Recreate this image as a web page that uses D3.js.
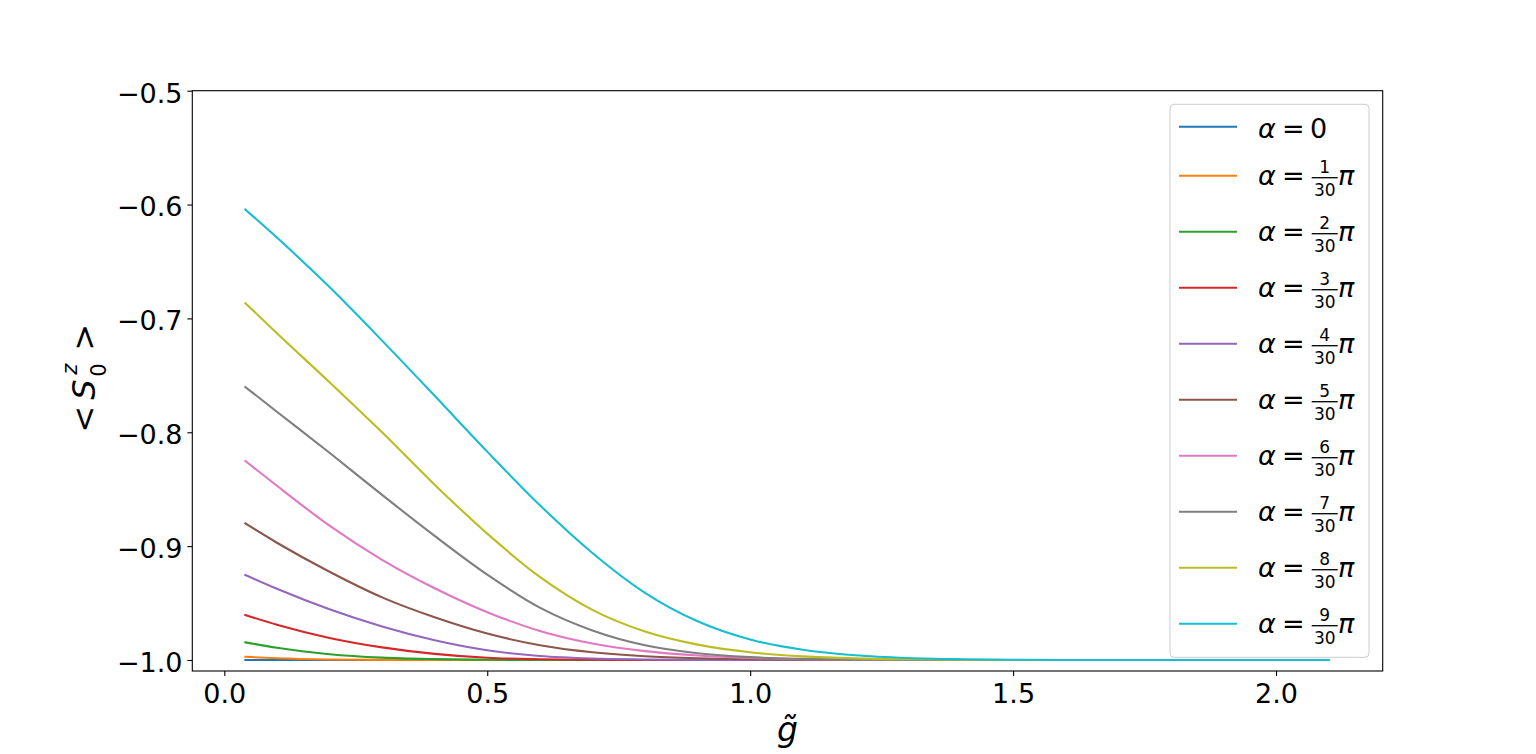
<!DOCTYPE html>
<html>
<head>
<meta charset="utf-8">
<script src="https://cdn.jsdelivr.net/npm/d3@7"></script>
<style>
  html, body { margin: 0; padding: 0; background: #ffffff; }
  svg { display: block; font-family: "DejaVu Sans", sans-serif; }
</style>
</head>
<body>
<svg id="chart" width="1536" height="754"></svg>
<script>
// ---------------- data ----------------
const gValues = [0.04, 0.1, 0.2, 0.3, 0.4, 0.5, 0.6, 0.7, 0.8, 0.9, 1.0,
                 1.1, 1.2, 1.3, 1.4, 1.5, 1.6, 1.7, 1.8, 1.9, 2.0, 2.1];

const alpha0 = [-1, -1, -1, -1, -1, -1, -1, -1, -1, -1, -1, -1, -1, -1, -1, -1, -1, -1, -1, -1, -1, -1];
const alpha1 = [-0.9972, -0.9984, -0.9995, -0.9999, -1, -1, -1, -1, -1, -1, -1, -1, -1, -1, -1, -1, -1, -1, -1, -1, -1, -1];
const alpha2 = [-0.9845, -0.9893, -0.9949, -0.9979, -0.9992, -0.9998, -1, -1, -1, -1, -1, -1, -1, -1, -1, -1, -1, -1, -1, -1, -1, -1];
const alpha3 = [-0.9605, -0.9690, -0.9806, -0.9889, -0.9946, -0.9980, -0.9993, -0.9998, -1, -1, -1, -1, -1, -1, -1, -1, -1, -1, -1, -1, -1, -1];
const alpha4 = [-0.9254, -0.9375, -0.9555, -0.9706, -0.9827, -0.9915, -0.9965, -0.9987, -0.9995, -0.9999, -1, -1, -1, -1, -1, -1, -1, -1, -1, -1, -1, -1];
const alpha5 = [-0.8801, -0.8970, -0.9225, -0.9450, -0.9625, -0.9768, -0.9870, -0.9932, -0.9967, -0.9985, -0.9994, -0.9998, -0.9999, -1, -1, -1, -1, -1, -1, -1, -1, -1];
const alpha6 = [-0.8252, -0.8470, -0.8820, -0.9120, -0.9370, -0.9580, -0.9745, -0.9855, -0.9922, -0.9960, -0.9982, -0.9993, -0.9998, -1, -1, -1, -1, -1, -1, -1, -1, -1];
const alpha7 = [-0.7602, -0.7820, -0.8180, -0.8550, -0.8910, -0.9250, -0.9540, -0.9740, -0.9870, -0.9940, -0.9975, -0.9990, -0.9997, -1, -1, -1, -1, -1, -1, -1, -1, -1];
const alpha8 = [-0.6866, -0.7130, -0.7560, -0.8000, -0.8460, -0.8890, -0.9270, -0.9560, -0.9750, -0.9865, -0.9932, -0.9968, -0.9986, -0.9994, -0.9998, -1, -1, -1, -1, -1, -1, -1];
const alpha9 = [-0.6044, -0.6290, -0.6725, -0.7195, -0.7680, -0.8170, -0.8640, -0.9060, -0.9410, -0.9660, -0.9820, -0.9910, -0.9958, -0.9982, -0.9993, -0.9998, -1, -1, -1, -1, -1, -1];

const seriesList = [alpha0, alpha1, alpha2, alpha3, alpha4, alpha5, alpha6, alpha7, alpha8, alpha9];
const numerators = ["0", "1", "2", "3", "4", "5", "6", "7", "8", "9"];
const denominator = "30";

const xTicks = [0, 0.5, 1.0, 1.5, 2.0];
const yTicks = [-1.0, -0.9, -0.8, -0.7, -0.6, -0.5];
const xDomain = [-0.0609, 2.2029];
const yDomain = [-1.00966, -0.5];

const colors = ["#1f77b4", "#ff7f0e", "#2ca02c", "#d62728", "#9467bd",
                "#8c564b", "#e377c2", "#7f7f7f", "#bcbd22", "#17becf"];

// ---------------- layout ----------------
const M = { left: 192.3, right: 1382.7, top: 90.7, bottom: 671 };
const TICK_FONT = 27;
const svg = d3.select("#chart");

const x = d3.scaleLinear().domain(xDomain).range([M.left, M.right]);
const y = d3.scaleLinear().domain(yDomain).range([M.bottom, M.top]);

svg.append("defs").append("clipPath").attr("id", "clip")
  .append("rect").attr("x", M.left).attr("y", M.top)
  .attr("width", M.right - M.left).attr("height", M.bottom - M.top);

// lines
const line = d3.line()
  .x((d, i) => x(gValues[i]))
  .y(d => y(d))
  .curve(d3.curveMonotoneX);

const linesG = svg.append("g").attr("clip-path", "url(#clip)");
seriesList.forEach((s, i) => {
  linesG.append("path")
    .datum(s)
    .attr("d", line)
    .attr("fill", "none")
    .attr("stroke", colors[i])
    .attr("stroke-width", 2.1)
    .attr("stroke-linejoin", "round")
    .attr("stroke-linecap", "square");
});

// axes
const xAxis = d3.axisBottom(x).tickValues(xTicks).tickFormat(d3.format(".1f"))
  .tickSize(4.9).tickPadding(4.9).tickSizeOuter(0);
const yAxis = d3.axisLeft(y).tickValues(yTicks).tickFormat(d3.format(".1f"))
  .tickSize(4.9).tickPadding(4.9).tickSizeOuter(0);

const gx = svg.append("g").attr("transform", `translate(0,${M.bottom})`).call(xAxis);
const gy = svg.append("g").attr("transform", `translate(${M.left},0)`).call(yAxis);
[gx, gy].forEach(g => {
  g.select(".domain").remove();
  g.selectAll(".tick line").attr("stroke", "#000").attr("stroke-width", 1.1);
  g.selectAll(".tick text").attr("fill", "#000")
    .style("font-family", "DejaVu Sans").style("font-size", TICK_FONT + "px");
});
gx.selectAll(".tick text").attr("dy", "0.82em");
gy.selectAll(".tick text").attr("dy", "0.42em");

// frame
svg.append("rect")
  .attr("x", M.left).attr("y", M.top)
  .attr("width", M.right - M.left).attr("height", M.bottom - M.top)
  .attr("fill", "none").attr("stroke", "#000").attr("stroke-width", 1.1);

// x label: g with combining tilde (one string)
const cx = (M.left + M.right) / 2;
svg.append("text").attr("x", cx).attr("y", 741).attr("text-anchor", "middle")
  .style("font-size", "33px").style("font-style", "italic").text("g\u0303");

// y label: < S_0^z >
const yl = svg.append("g").attr("transform", `translate(95,${(M.top + M.bottom) / 2 - 3}) rotate(-90)`);
yl.append("text").attr("x", -55).attr("y", 0).style("font-size", "32px").text("<");
yl.append("text").attr("x", -22).attr("y", 0).style("font-size", "32px").style("font-style", "italic").text("S");
yl.append("text").attr("x", 3).attr("y", -18).style("font-size", "21px").style("font-style", "italic").text("z");
yl.append("text").attr("x", 1).attr("y", 11).style("font-size", "21px").text("0");
yl.append("text").attr("x", 27).attr("y", 0).style("font-size", "32px").text(">");

// legend
const L = { x: 1170, y: 104.3, w: 199, h: 553 };
const lg = svg.append("g");
lg.append("rect").attr("x", L.x).attr("y", L.y).attr("width", L.w).attr("height", L.h)
  .attr("rx", 4).attr("fill", "#fff").attr("fill-opacity", 0.8)
  .attr("stroke", "#cccccc").attr("stroke-width", 1);

const LEG_FONT = 27;
numerators.forEach((num, i) => {
  const ry = i === 0 ? L.y + 22.4 : L.y + 71.4 + (i - 1) * 56;
  lg.append("line").attr("x1", L.x + 9).attr("x2", L.x + 67).attr("y1", ry).attr("y2", ry)
    .attr("stroke", colors[i]).attr("stroke-width", 2.1);
  const base = i === 0 ? ry + 11.6 : ry + 9.3;
  lg.append("text").attr("x", L.x + 88).attr("y", base)
    .style("font-size", LEG_FONT + "px").style("font-style", "italic").text("\u03B1");
  lg.append("text").attr("x", L.x + 112).attr("y", base)
    .style("font-size", LEG_FONT + "px").text("=");
  if (i === 0) {
    lg.append("text").attr("x", L.x + 140).attr("y", base)
      .style("font-size", LEG_FONT + "px").text(num);
  } else {
    const fx = L.x + 154.7;
    lg.append("text").attr("x", fx).attr("y", ry - 2.4).attr("text-anchor", "middle")
      .style("font-size", "17px").text(num);
    lg.append("line").attr("x1", L.x + 141.7).attr("x2", L.x + 167.7)
      .attr("y1", ry + 2).attr("y2", ry + 2).attr("stroke", "#000").attr("stroke-width", 1.3);
    lg.append("text").attr("x", fx).attr("y", ry + 20).attr("text-anchor", "middle")
      .style("font-size", "17px").text(denominator);
    lg.append("text").attr("x", L.x + 168).attr("y", base)
      .style("font-size", LEG_FONT + "px").style("font-style", "italic").text("\u03C0");
  }
});
</script>
</body>
</html>
